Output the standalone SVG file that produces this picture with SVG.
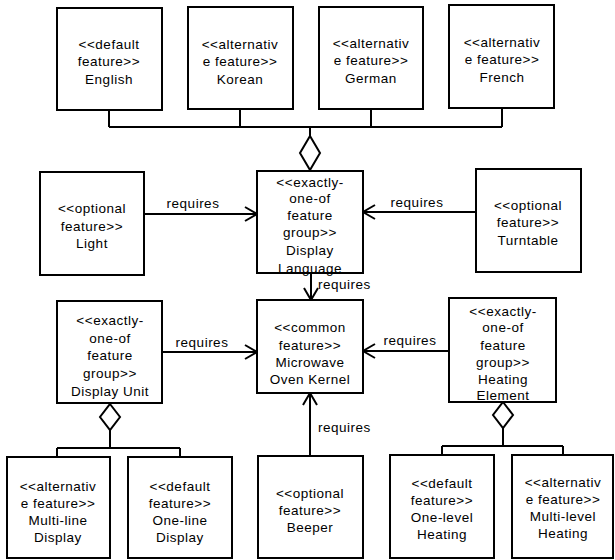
<svg xmlns="http://www.w3.org/2000/svg" width="615" height="560" viewBox="0 0 615 560">
<style>
.box{fill:#fff;stroke:#000;stroke-width:2}
.ln{fill:none;stroke:#000;stroke-width:2}
.dia{fill:#fff;stroke:#000;stroke-width:2}
text{font-family:"Liberation Sans",Arial,sans-serif;font-size:13.5px;letter-spacing:0.5px;fill:#000;text-anchor:middle}
.lbl{font-size:13.5px}
</style>
<defs>
<marker id="arr" markerUnits="userSpaceOnUse" markerWidth="16" markerHeight="18" refX="13" refY="8" orient="auto">
<path d="M1,1 L13,8 L1,15" fill="none" stroke="#000" stroke-width="2"/>
</marker>
</defs>
<rect width="615" height="560" fill="#fff"/>
<g id="connectors">
<path class="ln" d="M109,110 V127 M240,109 V127 M371,109 V127 M502,108 V127 M109,127 H502 M310,127 V136"/>
<path class="dia" d="M310,136 L320,153 L310,170 L300,153 Z"/>
<path class="ln" d="M110,430 V448 M57,448 H180 M57,448 V457 M180,448 V457"/>
<path class="dia" d="M110,404 L120,417 L110,430 L100,417 Z"/>
<path class="ln" d="M503,428 V446 M442,446 H563 M442,446 V455 M563,446 V455"/>
<path class="dia" d="M503,402 L513,415 L503,428 L493,415 Z"/>
<line class="ln" x1="144" y1="214" x2="257" y2="214" marker-end="url(#arr)"/>
<text class="lbl" x="193" y="208">requires</text>
<line class="ln" x1="476" y1="212" x2="363" y2="212" marker-end="url(#arr)"/>
<text class="lbl" x="417" y="207">requires</text>
<line class="ln" x1="311" y1="273" x2="311" y2="300" marker-end="url(#arr)"/>
<text class="lbl" x="318" y="289" style="text-anchor:start">requires</text>
<line class="ln" x1="162" y1="352" x2="257" y2="352" marker-end="url(#arr)"/>
<text class="lbl" x="202" y="347">requires</text>
<line class="ln" x1="449" y1="351" x2="363" y2="351" marker-end="url(#arr)"/>
<text class="lbl" x="410" y="345">requires</text>
<line class="ln" x1="310" y1="456" x2="310" y2="393" marker-end="url(#arr)"/>
<text class="lbl" x="318" y="432" style="text-anchor:start">requires</text>
</g>
<g id="english"><rect class="box" x="57" y="8" width="105" height="102"/>
<text x="109" y="49">&lt;&lt;default</text><text x="109" y="66">feature&gt;&gt;</text><text x="109" y="84">English</text></g>
<g id="korean"><rect class="box" x="188" y="7" width="105" height="102"/>
<text x="240" y="49">&lt;&lt;alternativ</text><text x="240" y="66">e feature&gt;&gt;</text><text x="240" y="84">Korean</text></g>
<g id="german"><rect class="box" x="319" y="7" width="104" height="102"/>
<text x="371" y="48">&lt;&lt;alternativ</text><text x="371" y="65">e feature&gt;&gt;</text><text x="371" y="83">German</text></g>
<g id="french"><rect class="box" x="449" y="5" width="105" height="103"/>
<text x="502" y="47">&lt;&lt;alternativ</text><text x="502" y="64">e feature&gt;&gt;</text><text x="502" y="82">French</text></g>
<g id="light"><rect class="box" x="40" y="172" width="104" height="103"/>
<text x="92" y="213">&lt;&lt;optional</text><text x="92" y="231">feature&gt;&gt;</text><text x="92" y="248">Light</text></g>
<g id="display-language"><rect class="box" x="257" y="171" width="106" height="102"/>
<text x="310" y="187">&lt;&lt;exactly-</text><text x="310" y="203">one-of</text><text x="310" y="220">feature</text><text x="310" y="237">group&gt;&gt;</text><text x="310" y="255">Display</text><text x="310" y="273">Language</text></g>
<g id="turntable"><rect class="box" x="476" y="169" width="105" height="103"/>
<text x="528" y="210">&lt;&lt;optional</text><text x="528" y="227">feature&gt;&gt;</text><text x="528" y="245">Turntable</text></g>
<g id="display-unit"><rect class="box" x="57" y="301" width="105" height="102"/>
<text x="110" y="325">&lt;&lt;exactly-</text><text x="110" y="343">one-of</text><text x="110" y="360">feature</text><text x="110" y="378">group&gt;&gt;</text><text x="110" y="396">Display Unit</text></g>
<g id="kernel"><rect class="box" x="257" y="300" width="106" height="93"/>
<text x="310" y="332">&lt;&lt;common</text><text x="310" y="350">feature&gt;&gt;</text><text x="310" y="367">Microwave</text><text x="310" y="384">Oven Kernel</text></g>
<g id="heating-element"><rect class="box" x="449" y="298" width="107" height="104"/>
<text x="503" y="316">&lt;&lt;exactly-</text><text x="503" y="332">one-of</text><text x="503" y="350">feature</text><text x="503" y="367">group&gt;&gt;</text><text x="503" y="384">Heating</text><text x="503" y="400">Element</text></g>
<g id="multi-line"><rect class="box" x="7" y="457" width="103" height="101"/>
<text x="58" y="491">&lt;&lt;alternativ</text><text x="58" y="508">e feature&gt;&gt;</text><text x="58" y="525">Multi-line</text><text x="58" y="542">Display</text></g>
<g id="one-line"><rect class="box" x="128" y="457" width="104" height="101"/>
<text x="180" y="491">&lt;&lt;default</text><text x="180" y="508">feature&gt;&gt;</text><text x="180" y="525">One-line</text><text x="180" y="542">Display</text></g>
<g id="beeper"><rect class="box" x="258" y="456" width="105" height="102"/>
<text x="310" y="498">&lt;&lt;optional</text><text x="310" y="515">feature&gt;&gt;</text><text x="310" y="532">Beeper</text></g>
<g id="one-level"><rect class="box" x="390" y="455" width="104" height="103"/>
<text x="442" y="488">&lt;&lt;default</text><text x="442" y="505">feature&gt;&gt;</text><text x="442" y="522">One-level</text><text x="442" y="539">Heating</text></g>
<g id="multi-level"><rect class="box" x="512" y="455" width="101" height="103"/>
<text x="563" y="487">&lt;&lt;alternativ</text><text x="563" y="504">e feature&gt;&gt;</text><text x="563" y="521">Multi-level</text><text x="563" y="538">Heating</text></g>
</svg>
